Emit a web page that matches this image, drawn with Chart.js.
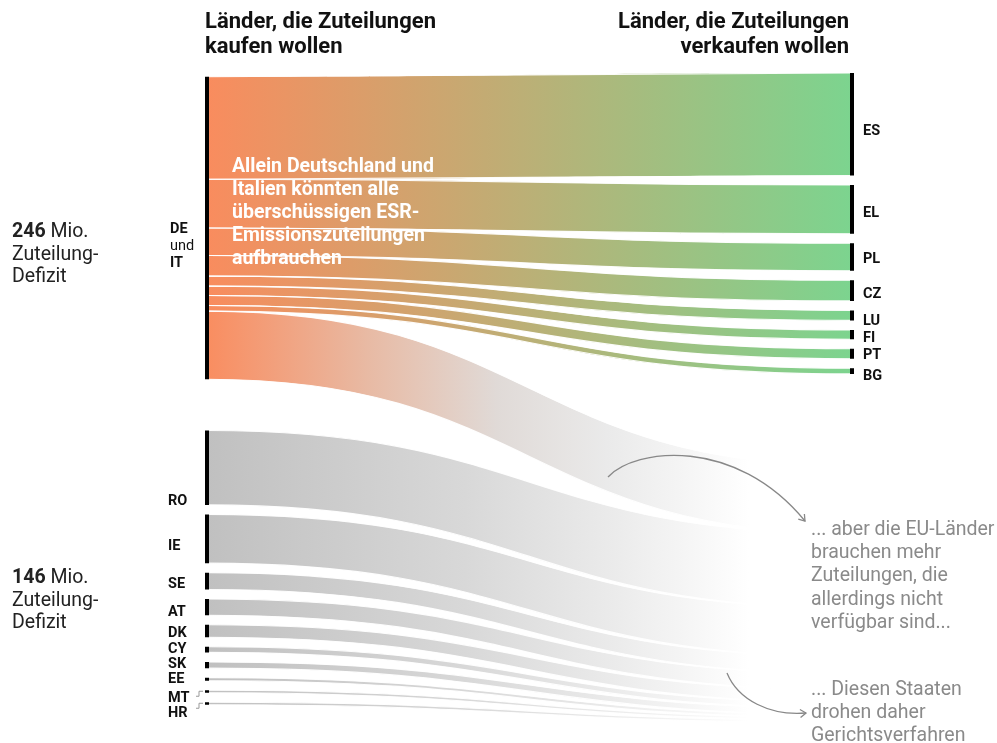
<!DOCTYPE html>
<html lang="de">
  <head>
    <meta charset="UTF-8" />
    <meta name="viewport" content="width=device-width, initial-scale=1.0" />
    <title>ESR-Zuteilungen</title>
    <style>
      html, body { margin: 0; padding: 0; background: #fff; }
      #wrap { width: 997px; height: 743px; position: relative; }
    </style>
  </head>
  <body>
    <div id="wrap"><canvas id="sankey"></canvas></div>
    <script src="https://cdn.jsdelivr.net/npm/chart.js@4.4.1/dist/chart.umd.min.js"></script>
    <script>
      // values in Mio. Zuteilungen
      const bigBuyers = ["DE", "IT"];
      const bigBuyerTotal = [242];
      const sellers = ["ES", "EL", "PL", "CZ", "LU", "FI", "PT", "BG"];
      const sellerValues = [82, 39, 22, 16.5, 8, 7.5, 8, 4.5];
      const buyers = ["RO", "IE", "SE", "AT", "DK", "CY", "SK", "EE", "MT", "HR"];
      const buyerValues = [59.5, 39, 13.5, 13, 10, 4.5, 5, 2.5, 2, 2];
      const deficitTotals = ["246", "146"];

      // layout (y axis units = Mio.)
      const GAP = 7.6;
      const RIGHT_START = 0;
      const TOP_LEFT_START = 3;
      const BOTTOM_LEFT_START = 286;
      const SINK_START = 314;

      // stack nodes
      function stack(values, start, gap) {
        let pos = start;
        return values.map((v) => {
          const seg = [pos, pos + v];
          pos += v + gap;
          return seg;
        });
      }
      const sellerNodes = stack(sellerValues, RIGHT_START, GAP);
      const bigNode = [TOP_LEFT_START, TOP_LEFT_START + bigBuyerTotal[0]];
      const buyerNodes = stack(buyerValues, BOTTOM_LEFT_START, GAP);

      // flows DE/IT -> sellers, stacked at left in seller order
      const sellerFlows = [];
      let leftPos = bigNode[0];
      sellerValues.forEach((v, i) => {
        sellerFlows.push({ l: [leftPos, leftPos + v], r: sellerNodes[i] });
        leftPos += v;
      });
      const remainder = bigNode[1] - leftPos;
      // flows that find no seller: DE/IT remainder and all small buyers
      const sinkFlows = [];
      let sinkPos = SINK_START;
      sinkFlows.push({ l: [leftPos, bigNode[1]], r: [sinkPos, sinkPos + remainder], big: true });
      sinkPos += remainder;
      buyerValues.forEach((v, i) => {
        sinkFlows.push({ l: buyerNodes[i], r: [sinkPos, sinkPos + v] });
        sinkPos += v;
      });

      // node bars as vertical line segments
      const nodeDatasets = [];
      function nodeBar(x, seg) {
        nodeDatasets.push({
          data: [{ x: x, y: seg[0] }, { x: x, y: seg[1] }],
          showLine: true,
          borderColor: "#000",
          borderWidth: 4,
          borderCapStyle: "butt",
          pointRadius: 0,
          clip: false,
        });
      }
      nodeBar(0, bigNode);
      buyerNodes.forEach((s) => nodeBar(0, s));
      sellerNodes.forEach((s) => nodeBar(1, s));

      function ribbonPath(ctx, x0, x1, a0, b0, a1, b1) {
        const xm = (x0 + x1) / 2;
        ctx.beginPath();
        ctx.moveTo(x0, a0);
        ctx.bezierCurveTo(xm, a0, xm, a1, x1, a1);
        ctx.lineTo(x1, b1);
        ctx.bezierCurveTo(xm, b1, xm, b0, x0, b0);
        ctx.closePath();
      }
      function edge(ctx, x0, x1, a0, a1) {
        const xm = (x0 + x1) / 2;
        ctx.beginPath();
        ctx.moveTo(x0, a0);
        ctx.bezierCurveTo(xm, a0, xm, a1, x1, a1);
        ctx.stroke();
      }

      const ribbonPlugin = {
        id: "ribbons",
        beforeDatasetsDraw(chart) {
          const { ctx } = chart;
          const xs = chart.scales.x;
          const ys = chart.scales.y;
          const x0 = xs.getPixelForValue(0);
          const x1 = xs.getPixelForValue(1);
          const py = (v) => ys.getPixelForValue(v);

          const gOrange = ctx.createLinearGradient(x0, 0, x1, 0);
          gOrange.addColorStop(0, "rgb(249,140,94)");
          gOrange.addColorStop(1, "rgb(124,212,143)");

          const gFade = ctx.createLinearGradient(x0, 0, x1, 0);
          gFade.addColorStop(0, "rgb(249,141,96)");
          gFade.addColorStop(0.25, "rgb(232,186,164)");
          gFade.addColorStop(0.45, "rgb(224,218,215)");
          gFade.addColorStop(0.62, "rgb(234,234,234)");
          gFade.addColorStop(0.74, "rgb(245,245,245)");
          gFade.addColorStop(0.84, "rgb(255,255,255)");

          const gGrey = ctx.createLinearGradient(x0, 0, x1, 0);
          gGrey.addColorStop(0, "rgb(192,192,192)");
          gGrey.addColorStop(0.4, "rgb(216,216,216)");
          gGrey.addColorStop(0.62, "rgb(234,234,234)");
          gGrey.addColorStop(0.74, "rgb(245,245,245)");
          gGrey.addColorStop(0.84, "rgb(255,255,255)");

          ctx.save();
          sinkFlows.forEach((f) => {
            ctx.fillStyle = f.big ? gFade : gGrey;
            ribbonPath(ctx, x0, x1, py(f.l[0]), py(f.l[1]), py(f.r[0]), py(f.r[1]));
            ctx.fill();
          });
          sellerFlows.forEach((f) => {
            ctx.fillStyle = gOrange;
            ribbonPath(ctx, x0, x1, py(f.l[0]), py(f.l[1]), py(f.r[0]), py(f.r[1]));
            ctx.fill();
          });
          // thin white separators
          ctx.strokeStyle = "rgba(255,255,255,0.95)";
          ctx.lineWidth = 1.2;
          sellerFlows.concat(sinkFlows).forEach((f) => {
            edge(ctx, x0, x1, py(f.l[0]), py(f.r[0]));
            edge(ctx, x0, x1, py(f.l[1]), py(f.r[1]));
          });
          ctx.restore();
        },
      };

      const FONT = "Roboto, 'Noto Sans', sans-serif";
      const labelNudge = {
        ES: 5.5, EL: 2.5, PL: 1, CZ: 2, LU: 4.5, FI: 2, PT: 0, BG: 4,
        RO: 32, IE: 6.5, SE: 2, AT: 4, DK: 1, CY: -1.5, SK: -2, EE: -1, MT: 5.5, HR: 8,
      };

      function lines(ctx, arr, x, y, lh) {
        arr.forEach((t, i) => ctx.fillText(t, x, y + i * lh));
      }

      const textPlugin = {
        id: "texts",
        afterDraw(chart) {
          const { ctx } = chart;
          const xs = chart.scales.x;
          const ys = chart.scales.y;
          const x0 = xs.getPixelForValue(0);
          const x1 = xs.getPixelForValue(1);
          const py = (v) => ys.getPixelForValue(v);
          ctx.save();
          ctx.textBaseline = "alphabetic";

          // column headers
          ctx.fillStyle = "#111";
          ctx.font = "bold 22px " + FONT;
          ctx.textAlign = "left";
          lines(ctx, ["Länder, die Zuteilungen", "kaufen wollen"], x0 - 2, 28, 25);
          ctx.textAlign = "right";
          lines(ctx, ["Länder, die Zuteilungen", "verkaufen wollen"], x1 - 3, 28, 25);

          // seller labels
          ctx.textAlign = "left";
          ctx.font = "bold 14.5px " + FONT;
          sellers.forEach((s, i) => {
            const c = (py(sellerNodes[i][0]) + py(sellerNodes[i][1])) / 2;
            ctx.fillText(s, x1 + 11, c + 5 + labelNudge[s]);
          });
          // small buyer labels
          buyers.forEach((b, i) => {
            const c = (py(buyerNodes[i][0]) + py(buyerNodes[i][1])) / 2;
            ctx.fillText(b, 168, c + 5 + labelNudge[b]);
          });
          // DE und IT
          const cBig = (py(bigNode[0]) + py(bigNode[1])) / 2;
          ctx.fillText(bigBuyers[0], 170, cBig + 4.5);
          ctx.fillText(bigBuyers[1], 170, cBig + 38.5);
          ctx.font = "14.5px " + FONT;
          ctx.fillText("und", 170, cBig + 21.5);

          // MT / HR connectors
          ctx.strokeStyle = "#999";
          ctx.lineWidth = 1;
          const mtY = py(buyerNodes[8][0]) + 1;
          const hrY = py(buyerNodes[9][0]) + 1;
          ctx.beginPath();
          ctx.moveTo(196, mtY + 5); ctx.lineTo(199, mtY + 5); ctx.lineTo(199, mtY); ctx.lineTo(203, mtY);
          ctx.moveTo(196, hrY + 5); ctx.lineTo(199, hrY + 5); ctx.lineTo(199, hrY); ctx.lineTo(203, hrY);
          ctx.stroke();

          // deficit totals
          ctx.fillStyle = "#222";
          [[deficitTotals[0], 237], [deficitTotals[1], 583]].forEach(([num, y]) => {
            ctx.font = "bold 19.5px " + FONT;
            ctx.fillText(num, 12, y);
            const w = ctx.measureText(num + " ").width;
            ctx.font = "19.5px " + FONT;
            ctx.fillText("Mio.", 12 + w, y);
            lines(ctx, ["Zuteilung-", "Defizit"], 12, y + 22.5, 22.5);
          });

          // white note on the flows
          ctx.fillStyle = "#fff";
          ctx.font = "bold 19.5px " + FONT;
          lines(ctx, ["Allein Deutschland und", "Italien könnten alle", "überschüssigen ESR-",
            "Emissionszuteilungen", "aufbrauchen"], 232, 172, 23);

          // grey notes
          ctx.fillStyle = "#8a8a8a";
          ctx.font = "19.5px " + FONT;
          lines(ctx, ["... aber die EU-Länder", "brauchen mehr", "Zuteilungen, die",
            "allerdings nicht", "verfügbar sind..."], 811, 535, 23.2);
          lines(ctx, ["... Diesen Staaten", "drohen daher", "Gerichtsverfahren"], 811, 695, 23);

          // arrows
          ctx.strokeStyle = "#888";
          ctx.lineWidth = 1.3;
          ctx.beginPath();
          ctx.moveTo(608, 477);
          ctx.bezierCurveTo(635, 448, 735, 436, 805, 521);
          ctx.stroke();
          arrowHead(ctx, 805, 521, Math.atan2(521 - 436, 805 - 735));
          ctx.beginPath();
          ctx.moveTo(727, 673);
          ctx.bezierCurveTo(738, 700, 770, 716, 806, 713);
          ctx.stroke();
          arrowHead(ctx, 806, 713, Math.atan2(713 - 716, 806 - 770));
          ctx.restore();
        },
      };

      function arrowHead(ctx, x, y, ang) {
        const len = 7;
        ctx.beginPath();
        ctx.moveTo(x - len * Math.cos(ang - 0.6), y - len * Math.sin(ang - 0.6));
        ctx.lineTo(x, y);
        ctx.lineTo(x - len * Math.cos(ang + 0.6), y - len * Math.sin(ang + 0.6));
        ctx.stroke();
      }

      const chart = new Chart(document.getElementById("sankey"), {
        type: "scatter",
        data: { datasets: nodeDatasets },
        options: {
          responsive: true,
          maintainAspectRatio: false,
          animation: false,
          events: [],
          layout: { padding: { left: 207, right: 145, top: 73, bottom: 20 } },
          scales: {
            x: { type: "linear", min: 0, max: 1, display: false },
            y: { type: "linear", min: 0, max: 520, reverse: true, display: false },
          },
          plugins: {
            legend: { display: false },
            tooltip: { enabled: false },
          },
        },
        plugins: [ribbonPlugin, textPlugin],
      });
    </script>
  </body>
</html>
